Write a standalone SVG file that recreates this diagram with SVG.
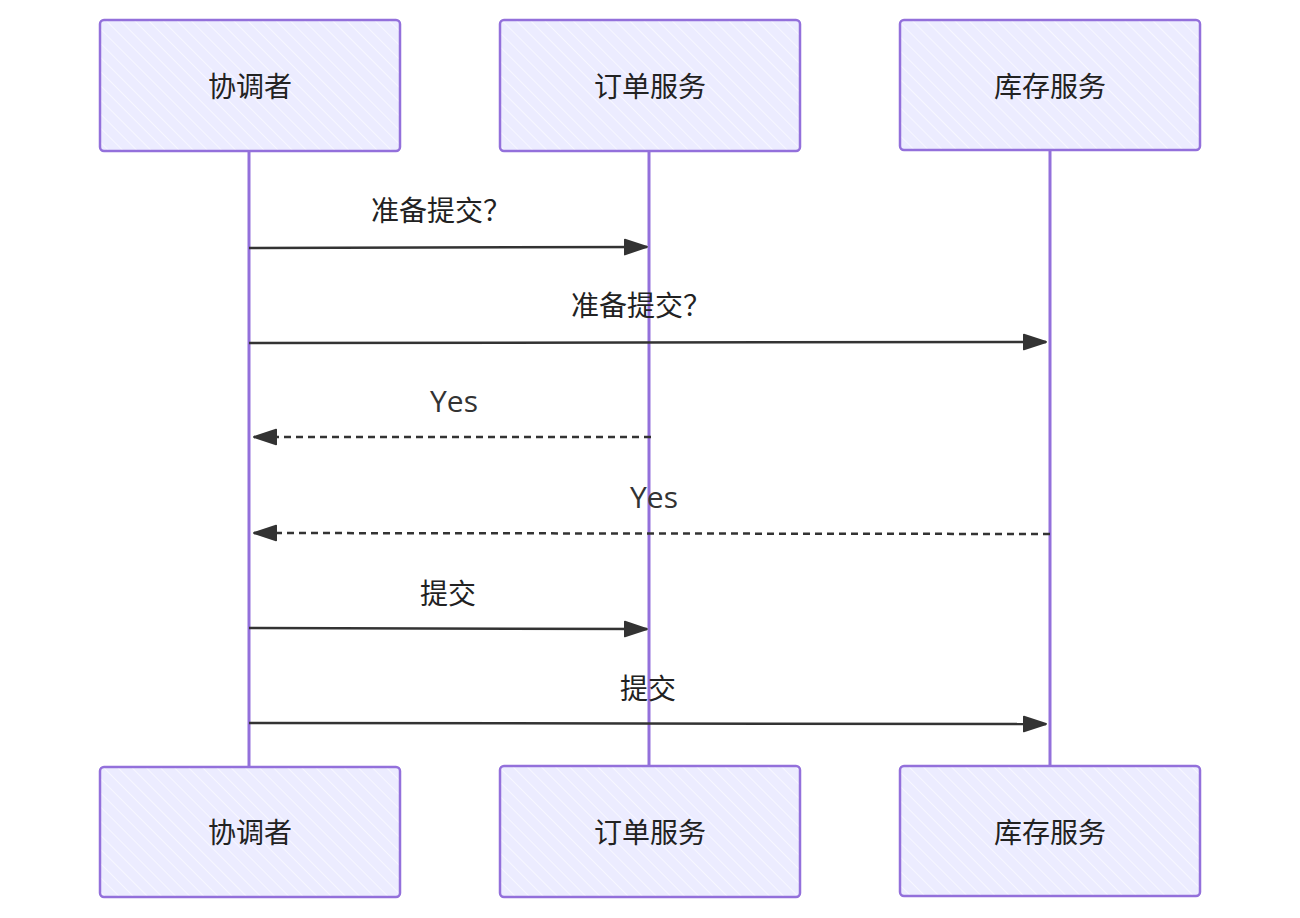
<svg xmlns="http://www.w3.org/2000/svg" width="1300" height="918" viewBox="0 0 1300 918">
<style>
.box{fill:url(#hatch);stroke:#9370DB;stroke-width:2.5}
.life{stroke:#9370DB;stroke-width:3;fill:none}
.msg{stroke:#333;stroke-width:2.5;fill:none}
.dash{stroke-dasharray:7,5}
.lbl{font-family:"Noto Sans CJK SC","Noto Sans",sans-serif;font-size:28px;fill:#222;text-anchor:middle;dominant-baseline:central}
.yes{font-family:"Comic Sans MS","Open Sans",sans-serif;font-size:30px;fill:#333;text-anchor:middle;dominant-baseline:central}
</style>
<defs>
<pattern id="hatch" patternUnits="userSpaceOnUse" width="10" height="10" patternTransform="rotate(-45)">
<rect width="10" height="10" fill="#ECECFF"/>
<line x1="0" y1="0" x2="0" y2="10" stroke="#ffffff" stroke-width="1.5" opacity="0.8"/>
</pattern>
<marker id="arrB" viewBox="0 0 26 20" refX="25" refY="10" markerWidth="24" markerHeight="19" markerUnits="userSpaceOnUse" orient="auto">
<path d="M1,2 L25,10 L1,18 Z" fill="#333" stroke="#333" stroke-width="2" stroke-linejoin="round"/>
</marker>
</defs>
<g id="connectors">
<line class="life" x1="249" y1="151" x2="249" y2="766"/>
<line class="life" x1="649" y1="151" x2="649" y2="766"/>
<line class="life" x1="1050" y1="151" x2="1050" y2="766"/>
<line class="msg" x1="249" y1="248" x2="647" y2="247" marker-end="url(#arrB)" stroke-width="3"/>
<line class="msg" x1="249" y1="343" x2="1046" y2="342" marker-end="url(#arrB)"/>
<line class="msg dash" x1="651" y1="437" x2="254" y2="437" marker-end="url(#arrB)"/>
<line class="msg dash" x1="1050" y1="534" x2="254" y2="533" marker-end="url(#arrB)"/>
<line class="msg" x1="249" y1="628" x2="647" y2="629" marker-end="url(#arrB)" stroke-width="3"/>
<line class="msg" x1="249" y1="723" x2="1046" y2="724" marker-end="url(#arrB)"/>
<text class="lbl" x="441" y="209">准备提交？</text>
<text class="lbl" x="641" y="304">准备提交？</text>
<text class="yes" x="454" y="400">Yes</text>
<text class="yes" x="654" y="496">Yes</text>
<text class="lbl" x="448" y="592">提交</text>
<text class="lbl" x="648" y="687">提交</text>
</g>
<g id="top-coordinator"><rect class="box" x="100" y="20" width="300" height="131" rx="4"/><text class="lbl" x="250" y="85">协调者</text></g>
<g id="top-order"><rect class="box" x="500" y="20" width="300" height="131" rx="4"/><text class="lbl" x="650" y="85">订单服务</text></g>
<g id="top-inventory"><rect class="box" x="900" y="20" width="300" height="130" rx="4"/><text class="lbl" x="1050" y="85">库存服务</text></g>
<g id="bot-coordinator"><rect class="box" x="100" y="767" width="300" height="130" rx="4"/><text class="lbl" x="250" y="831">协调者</text></g>
<g id="bot-order"><rect class="box" x="500" y="766" width="300" height="131" rx="4"/><text class="lbl" x="650" y="831">订单服务</text></g>
<g id="bot-inventory"><rect class="box" x="900" y="766" width="300" height="130" rx="4"/><text class="lbl" x="1050" y="831">库存服务</text></g>
</svg>
